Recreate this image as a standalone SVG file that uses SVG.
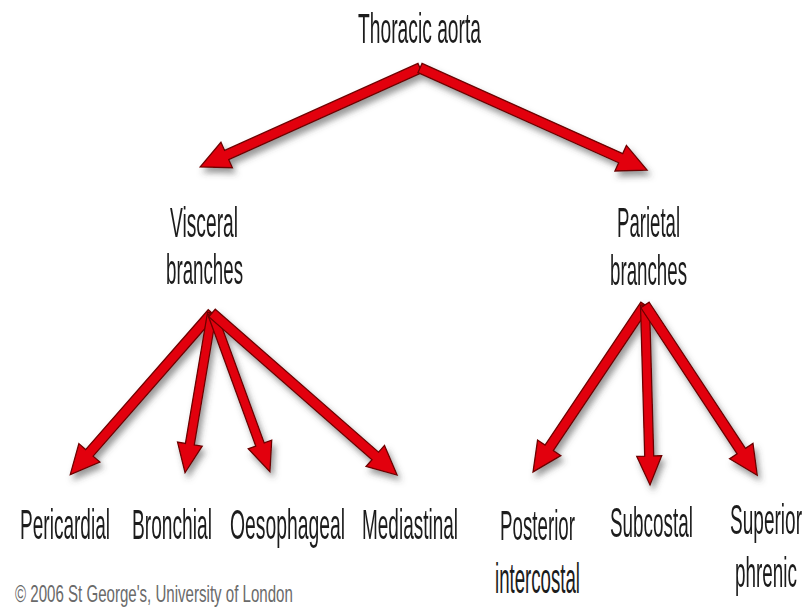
<svg xmlns="http://www.w3.org/2000/svg" width="810" height="615" viewBox="0 0 810 615">
  <defs>
    <style>
      .lbl { font-family: "Liberation Sans", Arial, sans-serif; font-size: 42px; fill: #1c1c1c; }
      .copy { font-family: "Liberation Sans", Arial, sans-serif; font-size: 23px; fill: #6a6a6a; }
      .arrow { fill: #e2000c; stroke: #6e0000; stroke-width: 1.3; stroke-linejoin: miter; }
    </style>
    <filter id="shadow" x="-20%" y="-20%" width="140%" height="140%">
      <feDropShadow dx="3" dy="5" stdDeviation="3" flood-color="#444" flood-opacity="0.55"/>
    </filter>
  </defs>
  <rect width="810" height="615" fill="#ffffff"/>

  <g id="connectors" filter="url(#shadow)">
    <!-- Thoracic aorta to Visceral branches -->
    <path class="arrow" transform="translate(420,68) rotate(155.77)" d="M0,-5 L212,-5 L212,-14 L241,0 L212,14 L212,5 L0,5 Z"/>
    <!-- Thoracic aorta to Parietal branches -->
    <path class="arrow" transform="translate(420,68) rotate(24.2)" d="M0,-5 L220,-5 L220,-14 L249,0 L220,14 L220,5 L0,5 Z"/>
    <!-- Visceral fan -->
    <path class="arrow" transform="translate(212,313) rotate(131.24)" d="M0,-5 L186,-5 L186,-14 L215,0 L186,14 L186,5 L0,5 Z"/>
    <path class="arrow" transform="translate(212,313) rotate(99.58)" d="M0,-4.5 L133,-4.5 L133,-12.5 L162,0 L133,12.5 L133,4.5 L0,4.5 Z"/>
    <path class="arrow" transform="translate(212,313) rotate(69.96)" d="M0,-4.5 L140,-4.5 L140,-12.5 L169,0 L140,12.5 L140,4.5 L0,4.5 Z"/>
    <path class="arrow" transform="translate(212,313) rotate(41.2)" d="M0,-5 L217,-5 L217,-14 L246,0 L217,14 L217,5 L0,5 Z"/>
    <!-- Parietal fan -->
    <path class="arrow" transform="translate(645,305) rotate(123.85)" d="M0,-5 L172,-5 L172,-14 L201,0 L172,14 L172,5 L0,5 Z"/>
    <path class="arrow" transform="translate(645,305) rotate(88.4)" d="M0,-4.5 L151,-4.5 L151,-12.5 L180,0 L151,12.5 L151,4.5 L0,4.5 Z"/>
    <path class="arrow" transform="translate(645,305) rotate(56.62)" d="M0,-5 L175,-5 L175,-14 L204,0 L175,14 L175,5 L0,5 Z"/>
  </g>

  <g id="thoracic-aorta">
    <text class="lbl" transform="translate(358,43) scale(0.46,1)" x="0" y="0" textLength="267.4" lengthAdjust="spacingAndGlyphs">Thoracic aorta</text>
  </g>
  <g id="visceral-branches">
    <text class="lbl" transform="translate(170,237) scale(0.46,1)" x="0" y="0" textLength="147.8" lengthAdjust="spacingAndGlyphs">Visceral</text>
    <text class="lbl" transform="translate(166,284) scale(0.46,1)" x="0" y="0" textLength="167.4" lengthAdjust="spacingAndGlyphs">branches</text>
  </g>
  <g id="parietal-branches">
    <text class="lbl" transform="translate(617,237) scale(0.46,1)" x="0" y="0" textLength="137" lengthAdjust="spacingAndGlyphs">Parietal</text>
    <text class="lbl" transform="translate(610,285) scale(0.46,1)" x="0" y="0" textLength="167.4" lengthAdjust="spacingAndGlyphs">branches</text>
  </g>
  <g id="pericardial">
    <text class="lbl" transform="translate(20,539) scale(0.46,1)" x="0" y="0" textLength="195.7" lengthAdjust="spacingAndGlyphs">Pericardial</text>
  </g>
  <g id="bronchial">
    <text class="lbl" transform="translate(132,539) scale(0.46,1)" x="0" y="0" textLength="173.9" lengthAdjust="spacingAndGlyphs">Bronchial</text>
  </g>
  <g id="oesophageal">
    <text class="lbl" transform="translate(230,539) scale(0.46,1)" x="0" y="0" textLength="250" lengthAdjust="spacingAndGlyphs">Oesophageal</text>
  </g>
  <g id="mediastinal">
    <text class="lbl" transform="translate(362,539) scale(0.46,1)" x="0" y="0" textLength="208.7" lengthAdjust="spacingAndGlyphs">Mediastinal</text>
  </g>
  <g id="posterior-intercostal">
    <text class="lbl" transform="translate(500,540) scale(0.46,1)" x="0" y="0" textLength="163" lengthAdjust="spacingAndGlyphs">Posterior</text>
    <text class="lbl" transform="translate(495,593) scale(0.46,1)" x="0" y="0" textLength="184.8" lengthAdjust="spacingAndGlyphs">intercostal</text>
  </g>
  <g id="subcostal">
    <text class="lbl" transform="translate(610,537) scale(0.46,1)" x="0" y="0" textLength="180.4" lengthAdjust="spacingAndGlyphs">Subcostal</text>
  </g>
  <g id="superior-phrenic">
    <text class="lbl" transform="translate(730,534) scale(0.46,1)" x="0" y="0" textLength="156.5" lengthAdjust="spacingAndGlyphs">Superior</text>
    <text class="lbl" transform="translate(735,587) scale(0.46,1)" x="0" y="0" textLength="134.8" lengthAdjust="spacingAndGlyphs">phrenic</text>
  </g>

  <text class="copy" transform="translate(15,602) scale(0.63,1)" x="0" y="0" textLength="441" lengthAdjust="spacingAndGlyphs">© 2006 St George's, University of London</text>
</svg>
